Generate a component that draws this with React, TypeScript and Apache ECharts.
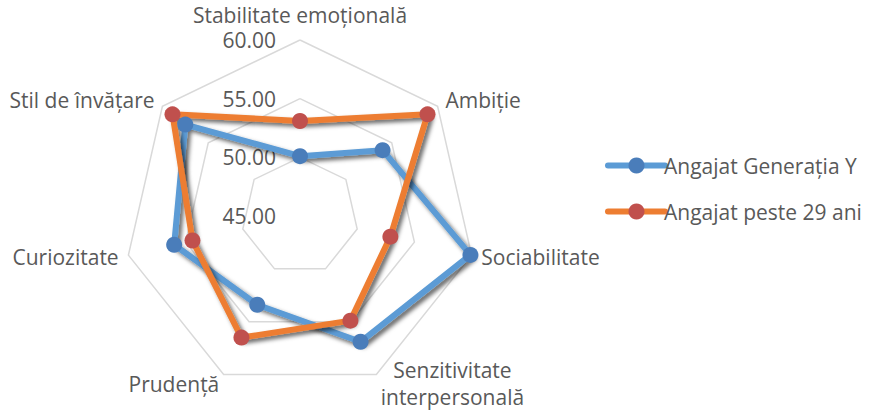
import React, { useEffect, useRef } from "react";
import * as echarts from "echarts";

const indicatorNames = [
  "Stabilitate emoțională",
  "Stil de învățare",
  "Curiozitate",
  "Prudență",
  "Senzitivitate\ninterpersonală",
  "Sociabilitate",
  "Ambiție",
];
const seriesNames = ["Angajat Generația Y", "Angajat peste 29 ani"];
const genY = [50.1, 57.5, 56.0, 53.4, 56.9, 59.9, 54.0];
const over29 = [53.1, 58.9, 54.4, 56.5, 54.9, 52.9, 58.9];
const axisMin = 45;
const axisMax = 60;

const lineColors = ["#5B9BD5", "#ED7D31"];
const markerColors = ["#4A7DBA", "#C0504D"];

export default function App() {
  const ref = useRef<HTMLDivElement>(null);
  useEffect(() => {
    if (!ref.current) return;
    const chart = echarts.init(ref.current, undefined, { renderer: "svg" });
    const font = "Open Sans";
    const fs = 21;
    const txt = "#595959";
    const shadow = {
      shadowColor: "rgba(0,0,0,0.6)",
      shadowBlur: 4,
      shadowOffsetX: 3,
      shadowOffsetY: 3,
    };
    const values = [genY, over29];
    chart.setOption({
      animation: false,
      backgroundColor: "#ffffff",
      textStyle: { fontFamily: font },
      grid: { show: false, left: 0, top: 0, width: 10, height: 10 },
      xAxis: { show: false, type: "category", data: [] },
      yAxis: { show: false, type: "value" },
      legend: {
        orient: "vertical",
        left: 600,
        top: 150,
        itemWidth: 57,
        itemHeight: 20,
        itemGap: 25,
        lineStyle: { width: 6, cap: "round" },
        textStyle: { color: txt, fontSize: fs, fontFamily: font, padding: [0, 0, 0, -6] },
        data: seriesNames,
      },
      radar: {
        center: [300, 216],
        radius: 176,
        startAngle: 90,
        shape: "polygon",
        splitNumber: 3,
        nameGap: 10,
        axisName: {
          color: txt,
          fontSize: fs,
          fontFamily: font,
          lineHeight: 22,
          formatter: (v: string) =>
            v.indexOf("\n") >= 0
              ? v
                  .split("\n")
                  .map((s) => "{c|" + s + "}")
                  .join("\n")
              : v,
          rich: {
            c: { align: "center", color: txt, fontSize: fs, fontFamily: font, lineHeight: 27 },
          },
        },
        splitLine: { lineStyle: { color: "#D9D9D9", width: 1.5 } },
        splitArea: { show: false },
        axisLine: { show: false },
        axisTick: { show: false },
        axisLabel: { show: false },
        indicator: indicatorNames.map((n, i) => ({
          name: n,
          min: axisMin,
          max: axisMax,
          ...(i === 0
            ? {
                nameTextStyle: { padding: [0, 0, 4, 0] },
                axisLabel: {
                  show: true,
                  color: txt,
                  fontSize: fs,
                  fontFamily: font,
                  lineHeight: 18,
                  margin: 24,
                  formatter: (v: number) => v.toFixed(2),
                },
              }
            : {}),
        })),
      },
      series: [
        {
          type: "radar",
          symbol: "circle",
          symbolSize: 16,
          data: seriesNames.map((name, k) => ({
            name,
            value: values[k],
            lineStyle: { color: lineColors[k], width: 6, ...shadow },
            itemStyle: { color: markerColors[k] },
          })),
        },
        ...seriesNames.map((name, k) => ({
          type: "line",
          name,
          data: [],
          symbol: "circle",
          lineStyle: { color: lineColors[k], width: 6, cap: "round" },
          itemStyle: { color: markerColors[k] },
        })),
      ],
    });
    return () => chart.dispose();
  }, []);
  return (
    <div
      ref={ref}
      style={{ position: "absolute", left: 0, top: 0, width: 871, height: 410 }}
    />
  );
}
